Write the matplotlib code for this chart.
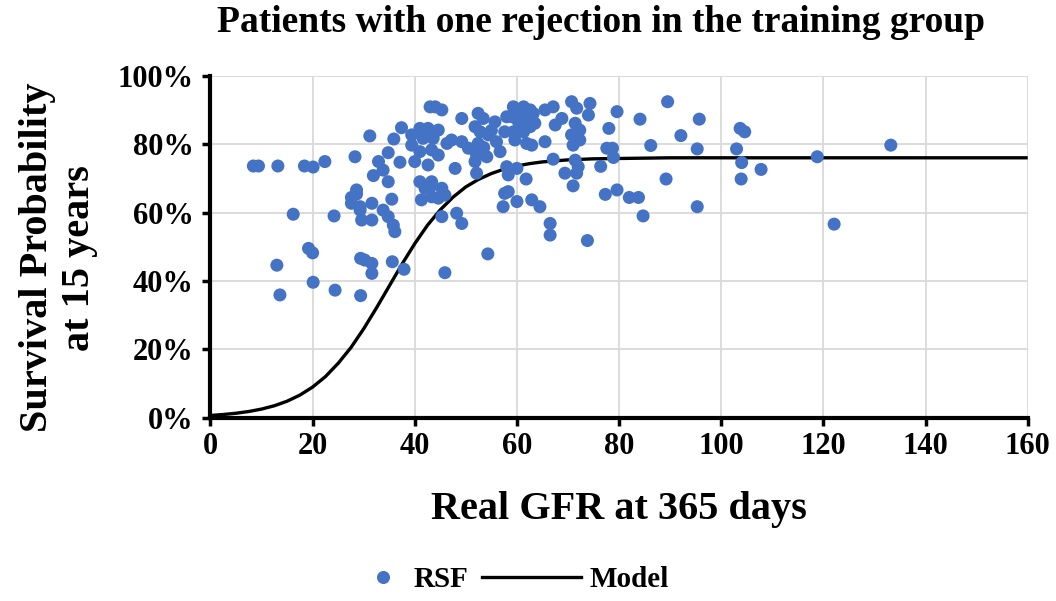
import matplotlib

matplotlib.use("Agg")
import matplotlib.pyplot as plt
from matplotlib.lines import Line2D
from matplotlib.ticker import FuncFormatter

# RSF predictions (real GFR at 365 days, survival probability %)
rsf_gfr = [
    8.4, 9.4, 13.2, 18.4, 20.1, 22.4, 16.2, 24.2, 19.2, 20.0, 13.0, 13.6, 20.1, 24.4, 28.3, 31.2,
    29.4, 30.2, 31.6, 31.6, 29.4, 35.6, 37.9, 28.6, 28.6, 27.6, 27.6, 29.3, 29.3, 29.6, 31.6, 31.6,
    33.8, 34.8, 35.8, 36.1, 35.5, 32.9, 37.1, 33.8, 31.9, 34.8, 34.8, 35.9, 37.4,
    39.4, 41.0, 41.6, 39.4, 41.0, 40.0, 42.6, 41.0, 42.0, 43.0, 41.3, 42.9, 43.3, 44.6, 45.9, 45.3,
    43.3, 45.3, 48.2, 49.2, 45.9, 54.3, 44.0, 45.3, 49.2, 52.4, 53.4, 42.6, 44.6, 43.6, 51.8, 52.8,
    55.7, 58.0, 57.6, 47.2, 49.2, 50.5, 52.4, 54.4, 56.0, 43.3, 44.6, 51.8, 52.1, 47.9, 58.0, 58.3,
    52.1, 46.3, 54.1, 56.7, 58.3, 55.0, 53.5,
    59.3, 61.3, 62.6, 59.0, 60.0, 63.2, 60.3, 61.9, 62.6, 63.5, 59.3, 61.3, 59.6, 61.9, 62.9, 65.5,
    67.1, 68.8, 67.5, 70.7, 71.7, 74.3, 74.0, 71.4, 72.3, 70.7, 72.3, 71.0, 65.5, 78.0, 77.6, 78.7,
    67.1, 71.4, 72.0, 60.0, 69.4, 76.4, 61.8, 71.0, 60.0, 62.9, 64.5, 57.3, 57.6, 77.3, 79.6, 66.5,
    66.5, 73.8, 71.7,
    89.5, 79.6, 84.1, 95.7, 92.1, 86.2, 95.3, 103.7, 104.6, 103.0, 78.9, 104.0, 107.8, 118.8, 89.2,
    103.9, 82.0, 83.8, 84.7, 95.3, 122.1, 133.2,
]
rsf_surv = [
    73.6, 73.6, 73.6, 73.6, 73.3, 74.9, 59.5, 59.0, 49.5, 48.2, 44.6, 35.9, 39.6, 37.3, 76.3, 82.4,
    46.6, 46.1, 45.1, 42.2, 35.7, 45.6, 43.4, 66.6, 65.4, 64.4, 62.7, 61.7, 60.7, 57.8, 57.8, 62.7,
    60.7, 58.8, 56.3, 54.4, 63.9, 74.9, 74.7, 72.4, 70.8, 69.0, 77.5, 81.5, 84.8,
    82.7, 84.6, 81.7, 79.7, 77.8, 74.9, 73.9, 69.0, 67.1, 90.9, 63.7, 67.1, 64.6, 64.2, 65.1, 67.1,
    69.0, 58.8, 59.8, 56.8, 42.4, 47.9, 90.9, 90.0, 87.5, 89.0, 87.5, 84.6, 84.1, 81.7, 85.1, 83.6,
    86.5, 88.0, 83.6, 81.2, 80.7, 78.8, 80.2, 82.7, 80.7, 78.3, 76.8, 74.9, 76.8, 72.9, 73.4, 66.1,
    71.5, 80.2, 76.3, 77.8, 71.0, 84.0, 79.0,
    90.9, 90.9, 90.0, 88.0, 89.0, 89.0, 86.5, 87.5, 85.1, 86.1, 83.6, 83.6, 81.2, 80.2, 79.7, 90.0,
    90.9, 87.5, 85.6, 92.4, 90.5, 91.9, 88.5, 86.1, 84.1, 82.7, 81.2, 79.7, 80.7, 84.6, 78.8, 78.8,
    75.6, 75.3, 73.4, 72.9, 71.5, 73.5, 69.8, 67.8, 63.2, 63.7, 61.7, 61.7, 65.6, 65.3, 66.6, 56.8,
    53.4, 51.8, 71.5,
    92.4, 89.5, 87.3, 87.3, 82.5, 79.6, 78.6, 84.6, 83.6, 78.6, 76.1, 74.6, 72.6, 76.3, 69.8,
    69.8, 64.4, 64.4, 59.0, 61.7, 56.6, 79.7,
]

# fitted model curve
model_gfr = [0, 2.5, 5, 7.5, 10, 12.5, 15, 17.5, 20, 22.5, 25, 27.5, 30, 32.5, 35, 37.5, 40,
             42.5, 45, 47.5, 50, 52.5, 55, 57.5, 60, 62.5, 65, 67.5, 70, 75, 80, 90, 160]
model_surv = [0.66, 0.93, 1.30, 1.81, 2.52, 3.49, 4.82, 6.60, 8.96, 12.0, 15.9, 20.5, 26.0,
              32.1, 38.5, 44.9, 50.9, 56.3, 60.8, 64.5, 67.5, 69.7, 71.4, 72.7, 73.6, 74.3,
              74.8, 75.1, 75.4, 75.7, 75.8, 76.0, 76.0]

x_ticks = [0, 20, 40, 60, 80, 100, 120, 140, 160]
y_ticks = [0, 20, 40, 60, 80, 100]

BLUE = "#4472C4"
plt.rcParams["font.family"] = ["Liberation Serif", "DejaVu Serif"]
plt.rcParams["font.weight"] = "bold"

fig = plt.figure(figsize=(10.56, 6.01), dpi=100)
ax = fig.add_axes([0.1993, 0.305, 0.7739, 0.569])

ax.plot(model_gfr, model_surv, color="black", lw=2.4, zorder=2, solid_capstyle="butt")
ax.scatter(rsf_gfr, rsf_surv, s=88, color=BLUE, edgecolors="none", zorder=3)

ax.set_xlim(0, 160)
ax.set_ylim(0, 100)
ax.set_xticks(x_ticks)
ax.set_yticks(y_ticks)
ax.yaxis.set_major_formatter(FuncFormatter(lambda v, _: f"{v:.0f}%"))
ax.grid(True, color="#d9d9d9", lw=1.3, zorder=0)
ax.set_axisbelow(True)
for side in ("top", "right"):
    ax.spines[side].set_visible(False)
for side in ("left", "bottom"):
    ax.spines[side].set_linewidth(3)
    ax.spines[side].set_zorder(4)
ax.tick_params(axis="both", direction="out", length=6, width=2.5, labelsize=22)
ax.tick_params(axis="x", pad=4)
ax.tick_params(axis="y", pad=6)

# chart title sits centred on the chart area, not the axes
fig.text(0.569, 0.962, "Patients with one rejection in the training group", fontsize=27,
         fontweight="bold", ha="center", va="center")
ax.set_xlabel("Real GFR at 365 days", fontsize=29, fontweight="bold", labelpad=22)
ax.set_ylabel("Survival Probability\nat 15 years", fontsize=29, fontweight="bold",
              linespacing=1.2)
# label coords give the right-hand (text bottom) edge of the rotated label
ax.yaxis.set_label_coords(-0.137, 0.468)

dot = Line2D([], [], ls="none", marker="o", markersize=9.4, color=BLUE, markeredgewidth=0)
line = Line2D([], [], color="black", lw=2.4)
fig.legend([dot], ["RSF"], loc="center", bbox_to_anchor=(0.396, 0.035), frameon=False,
           fontsize=21, handlelength=1.0, handletextpad=0.55)
fig.legend([line], ["Model"], loc="center", bbox_to_anchor=(0.545, 0.035), frameon=False,
           fontsize=21, handlelength=3.4, handletextpad=0.3)

fig.savefig("out.png", dpi=100)
